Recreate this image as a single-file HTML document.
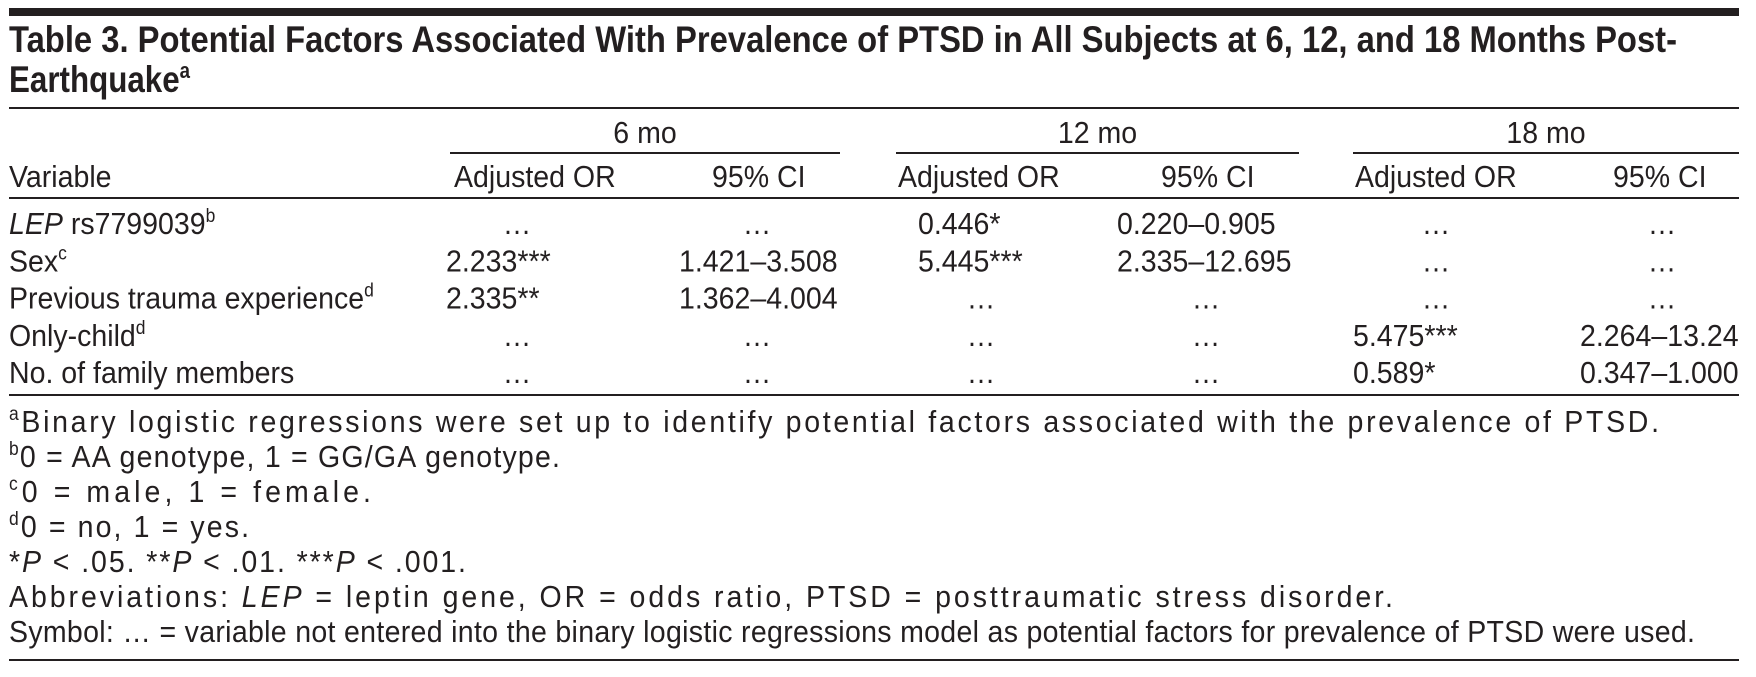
<!DOCTYPE html>
<html><head><meta charset="utf-8">
<style>
html,body{margin:0;padding:0;background:#fff;}
svg{display:block;}
text{font-family:"Liberation Sans",sans-serif;fill:#231f20;}
</style></head>
<body>
<svg id="tbl" width="1756" height="677" viewBox="0 0 1756 677" xmlns="http://www.w3.org/2000/svg">
<rect x="9" y="8" width="1730" height="8" fill="#231f20"/>
<text x="9" y="52" font-size="37" font-weight="bold" data-w="1668">Table 3. Potential Factors Associated With Prevalence of PTSD in All Subjects at 6, 12, and 18 Months Post-</text>
<text x="9" y="92" font-size="37" font-weight="bold" data-w="181">Earthquake<tspan font-size="22" dy="-14">a</tspan></text>
<rect x="9" y="107" width="1730" height="2" fill="#231f20"/>
<g id="hdr"></g>
<g id="body"></g>
<rect x="9" y="394" width="1730" height="2" fill="#231f20"/>
<g id="notes"></g>
<rect x="9" y="659" width="1730" height="2" fill="#231f20"/>
</svg>
<script>
const periods = ["6 mo","12 mo","18 mo"];
const variables = ["LEP rs7799039","Sex","Previous trauma experience","Only-child","No. of family members"];
const varSup = ["b","c","d","d",""];
const or6 = ["…","2.233***","2.335**","…","…"];
const ci6 = ["…","1.421–3.508","1.362–4.004","…","…"];
const or12 = ["0.446*","5.445***","…","…","…"];
const ci12 = ["0.220–0.905","2.335–12.695","…","…","…"];
const or18 = ["…","…","…","5.475***","0.589*"];
const ci18 = ["…","…","…","2.264–13.24","0.347–1.000"];
const notesText = [
 ["a","Binary logistic regressions were set up to identify potential factors associated with the prevalence of PTSD."],
 ["b","0 = AA genotype, 1 = GG/GA genotype."],
 ["c","0 = male, 1 = female."],
 ["d","0 = no, 1 = yes."],
 ["","*P < .05.  **P < .01.  ***P < .001."],
 ["","Abbreviations: LEP = leptin gene, OR = odds ratio, PTSD = posttraumatic stress disorder."],
 ["","Symbol: … = variable not entered into the binary logistic regressions model as potential factors for prevalence of PTSD were used."]
];
const noteW = [1650,551,362,240,457,1384,1686];

const NS="http://www.w3.org/2000/svg";
const FS='31', SUP='19';
function mk(parent,x,y,str,anchor){
  const t=document.createElementNS(NS,'text');
  t.setAttribute('x',x);t.setAttribute('y',y);t.setAttribute('font-size',FS);
  if(anchor) t.setAttribute('text-anchor',anchor);
  t.textContent=str;parent.appendChild(t);return t;
}
const spanX=[[450,840],[896,1299],[1353,1739]];
const orX=[454,898,1355], ciX=[712,1161,1613];
const hdr=document.getElementById('hdr');
periods.forEach((p,i)=>{
  const t=mk(hdr,(spanX[i][0]+spanX[i][1])/2,143,p,'middle');
  
  
  const r=document.createElementNS(NS,'rect');
  r.setAttribute('x',spanX[i][0]);r.setAttribute('y',152);r.setAttribute('width',spanX[i][1]-spanX[i][0]);r.setAttribute('height',2);r.setAttribute('fill','#231f20');
  
  
  hdr.appendChild(r);
  const a=mk(hdr,orX[i],187,'Adjusted OR');
  
  
  const c=mk(hdr,ciX[i],187,'95% CI');
  
  
});
const vh=mk(hdr,9,187,'Variable');


const hr=document.createElementNS(NS,'rect');
hr.setAttribute('x',9);hr.setAttribute('y',197);hr.setAttribute('width',1730);hr.setAttribute('height',2);hr.setAttribute('fill','#231f20');


hdr.appendChild(hr);

const body=document.getElementById('body');
const rowY=y=>234+y*37.3;
const cols=[[or6,446,517],[ci6,679,757],[or12,918,981],[ci12,1117,1206],[or18,1353,1436],[ci18,1580,1662]];
variables.forEach((v,r)=>{
  const y=rowY(r);
  const t=mk(body,9,y,'');
  
  
  if(r===0){
    const it=document.createElementNS(NS,'tspan');it.setAttribute('font-style','italic');it.textContent='LEP';t.appendChild(it);
    t.appendChild(document.createTextNode(' rs7799039'));
  } else t.appendChild(document.createTextNode(v));
  if(varSup[r]){const s=document.createElementNS(NS,'tspan');s.setAttribute('font-size',SUP);s.setAttribute('dy','-12');s.textContent=varSup[r];t.appendChild(s);}
  cols.forEach(([arr,lx,cx])=>{
    const val=arr[r];
    const c= val==='…'? mk(body,cx,y,val,'middle') : mk(body,lx,y,val);
    
    
  });
});

document.querySelectorAll('#tbl text').forEach(t=>{
  const w=t.getAttribute('data-w');
  const L=w?+w:t.getComputedTextLength()*0.92;
  t.setAttribute('textLength',L);
  t.setAttribute('lengthAdjust','spacingAndGlyphs');
});

const notes=document.getElementById('notes');
notesText.forEach(([sup,txt],i)=>{
  const y=432+i*35;
  const t=mk(notes,9,y,'');
  
  
  if(sup){const s=document.createElementNS(NS,'tspan');s.setAttribute('font-size',SUP);s.setAttribute('dy','-12');s.textContent=sup;t.appendChild(s);
    const m=document.createElementNS(NS,'tspan');m.setAttribute('dy','12');m.textContent=txt;t.appendChild(m);}
  else if(i===4){
    ['*','P',' < .05.  **','P',' < .01.  ***','P',' < .001.'].forEach(p=>{const s=document.createElementNS(NS,'tspan');if(p==='P')s.setAttribute('font-style','italic');s.textContent=p;t.appendChild(s);});
  } else if(i===5){
    ['Abbreviations: ','LEP',' = leptin gene, OR = odds ratio, PTSD = posttraumatic stress disorder.'].forEach(p=>{const s=document.createElementNS(NS,'tspan');if(p==='LEP')s.setAttribute('font-style','italic');s.textContent=p;t.appendChild(s);});
  } else t.textContent=txt;
  const nat=t.getComputedTextLength()*0.92;
  const target=noteW[i];
  // condense glyphs like the body text, then widen spacing toward the reference width
  t.setAttribute('textLength',Math.max(nat,target));
  t.setAttribute('lengthAdjust','spacing');
  t.setAttribute('transform','translate(9 0) scale(0.92 1) translate(-9 0)');
  t.setAttribute('textLength',Math.max(nat,target)/0.92);
});
</script>
</body></html>
